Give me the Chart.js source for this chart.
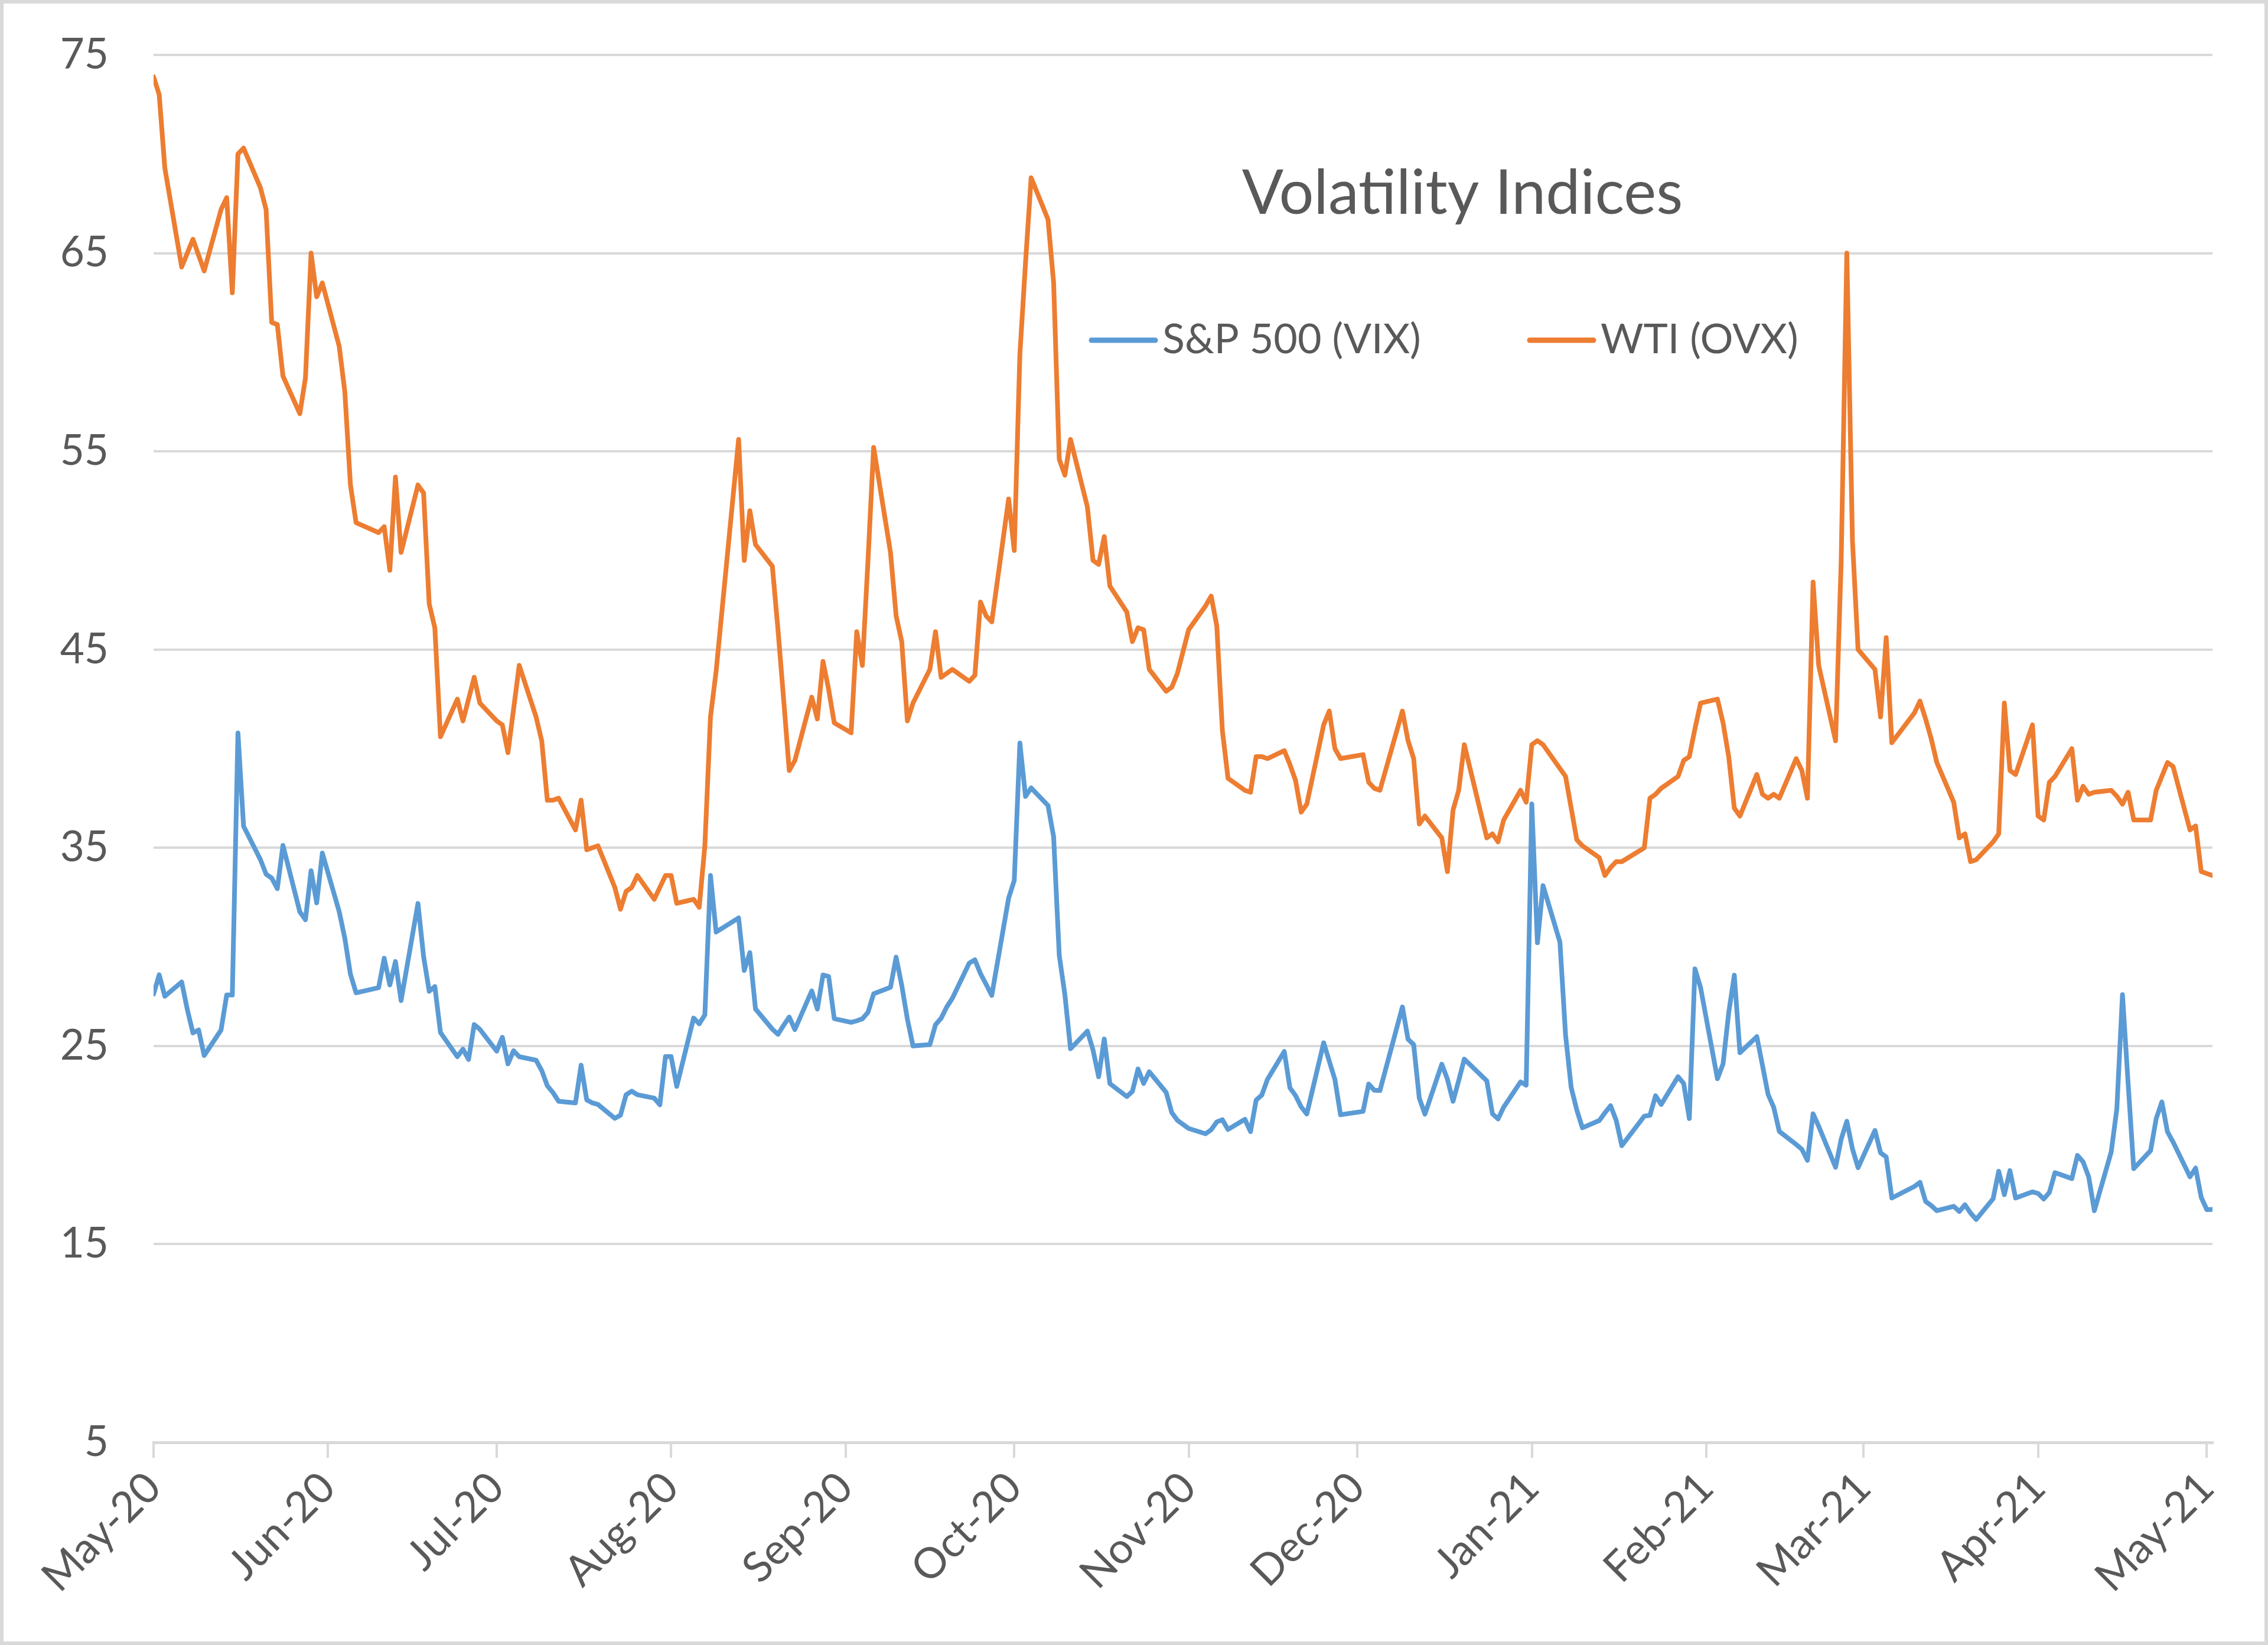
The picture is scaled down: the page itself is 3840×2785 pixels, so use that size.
<!DOCTYPE html>
<html><head><meta charset="utf-8">
<script src="https://cdn.jsdelivr.net/npm/chart.js@4.4.1/dist/chart.umd.min.js"></script>
<style>html,body{margin:0;padding:0;background:#fff;}canvas{display:block;}</style>
</head><body>
<canvas id="c" width="3840" height="2785"></canvas>
<script>
// ---- data ----
const dates = [
"2020-05-27","2020-05-28","2020-05-29",
"2020-06-01","2020-06-02","2020-06-03","2020-06-04","2020-06-05","2020-06-08","2020-06-09","2020-06-10","2020-06-11","2020-06-12","2020-06-15","2020-06-16","2020-06-17","2020-06-18","2020-06-19","2020-06-22","2020-06-23","2020-06-24","2020-06-25","2020-06-26","2020-06-29","2020-06-30",
"2020-07-01","2020-07-02","2020-07-06","2020-07-07","2020-07-08","2020-07-09","2020-07-10","2020-07-13","2020-07-14","2020-07-15","2020-07-16","2020-07-17","2020-07-20","2020-07-21","2020-07-22","2020-07-23","2020-07-24","2020-07-27","2020-07-28","2020-07-29","2020-07-30","2020-07-31",
"2020-08-03","2020-08-04","2020-08-05","2020-08-06","2020-08-07","2020-08-10","2020-08-11","2020-08-12","2020-08-13","2020-08-14","2020-08-17","2020-08-18","2020-08-19","2020-08-20","2020-08-21","2020-08-24","2020-08-25","2020-08-26","2020-08-27","2020-08-28","2020-08-31",
"2020-09-01","2020-09-02","2020-09-03","2020-09-04","2020-09-08","2020-09-09","2020-09-10","2020-09-11","2020-09-14","2020-09-15","2020-09-16","2020-09-17","2020-09-18","2020-09-21","2020-09-22","2020-09-23","2020-09-24","2020-09-25","2020-09-28","2020-09-29","2020-09-30",
"2020-10-01","2020-10-02","2020-10-05","2020-10-06","2020-10-07","2020-10-08","2020-10-09","2020-10-12","2020-10-13","2020-10-14","2020-10-15","2020-10-16","2020-10-19","2020-10-20","2020-10-21","2020-10-22","2020-10-23","2020-10-26","2020-10-27","2020-10-28","2020-10-29","2020-10-30",
"2020-11-02","2020-11-03","2020-11-04","2020-11-05","2020-11-06","2020-11-09","2020-11-10","2020-11-11","2020-11-12","2020-11-13","2020-11-16","2020-11-17","2020-11-18","2020-11-19","2020-11-20","2020-11-23","2020-11-24","2020-11-25","2020-11-27","2020-11-30",
"2020-12-01","2020-12-02","2020-12-03","2020-12-04","2020-12-07","2020-12-08","2020-12-09","2020-12-10","2020-12-11","2020-12-14","2020-12-15","2020-12-16","2020-12-17","2020-12-18","2020-12-21","2020-12-22","2020-12-23","2020-12-24","2020-12-28","2020-12-29","2020-12-30","2020-12-31",
"2021-01-04","2021-01-05","2021-01-06","2021-01-07","2021-01-08","2021-01-11","2021-01-12","2021-01-13","2021-01-14","2021-01-15","2021-01-19","2021-01-20","2021-01-21","2021-01-22","2021-01-25","2021-01-26","2021-01-27","2021-01-28","2021-01-29",
"2021-02-01","2021-02-02","2021-02-03","2021-02-04","2021-02-05","2021-02-08","2021-02-09","2021-02-10","2021-02-11","2021-02-12","2021-02-16","2021-02-17","2021-02-18","2021-02-19","2021-02-22","2021-02-23","2021-02-24","2021-02-25","2021-02-26",
"2021-03-01","2021-03-02","2021-03-03","2021-03-04","2021-03-05","2021-03-08","2021-03-09","2021-03-10","2021-03-11","2021-03-12","2021-03-15","2021-03-16","2021-03-17","2021-03-18","2021-03-19","2021-03-22","2021-03-23","2021-03-24","2021-03-25","2021-03-26","2021-03-29","2021-03-30","2021-03-31",
"2021-04-01","2021-04-05","2021-04-06","2021-04-07","2021-04-08","2021-04-09","2021-04-12","2021-04-13","2021-04-14","2021-04-15","2021-04-16","2021-04-19","2021-04-20","2021-04-21","2021-04-22","2021-04-23","2021-04-26","2021-04-27","2021-04-28","2021-04-29","2021-04-30",
"2021-05-03","2021-05-04","2021-05-05","2021-05-06","2021-05-07","2021-05-10","2021-05-11","2021-05-12","2021-05-13","2021-05-14","2021-05-17","2021-05-18","2021-05-19","2021-05-20","2021-05-21","2021-05-24","2021-05-25","2021-05-26","2021-05-27","2021-05-28"
];
const vix = [
27.62,28.59,27.51,
28.23,26.84,25.66,25.81,24.52,25.81,27.57,27.57,40.79,36.09,34.40,33.67,33.47,32.94,35.12,31.77,31.37,33.84,32.22,34.73,31.78,30.43,
28.62,27.68,27.94,29.43,28.08,29.26,27.29,32.19,29.52,27.76,28.00,25.68,24.46,24.84,24.32,26.08,25.84,24.74,25.44,24.10,24.76,24.46,
24.28,23.76,22.99,22.65,22.21,22.13,24.03,22.28,22.13,22.05,21.35,21.51,22.54,22.72,22.54,22.37,22.03,24.47,24.47,22.96,26.41,
26.12,26.57,33.60,30.75,31.46,28.81,29.71,26.87,25.85,25.59,26.04,26.46,25.83,27.78,26.86,28.58,28.51,26.38,26.19,26.27,26.37,
26.70,27.63,27.96,29.48,28.06,26.36,25.00,25.07,26.07,26.40,26.97,27.41,29.18,29.35,28.65,28.11,27.55,32.46,33.35,40.28,37.59,38.02,
37.13,35.55,29.57,27.58,24.86,25.75,24.80,23.45,25.35,23.10,22.45,22.71,23.84,23.11,23.70,22.66,21.64,21.25,20.84,20.57,
20.77,21.17,21.28,20.79,21.30,20.68,22.27,22.52,23.31,24.72,22.89,22.50,21.93,21.57,25.16,24.23,23.31,21.53,21.70,23.08,22.77,22.75,
26.97,25.34,25.07,22.37,21.56,24.08,23.33,22.21,23.25,24.34,23.24,21.58,21.32,21.91,23.19,23.02,37.21,30.21,33.09,
30.24,25.56,22.91,21.77,20.87,21.24,21.63,21.99,21.25,19.97,21.46,21.50,22.49,22.05,23.45,23.11,21.34,28.89,27.95,
23.35,24.10,26.67,28.57,24.66,25.47,24.03,22.56,21.91,20.69,20.03,19.79,19.23,21.58,20.95,18.88,20.30,21.20,19.81,18.86,20.74,19.61,19.40,
17.33,17.91,18.12,17.16,16.95,16.69,16.91,16.65,16.99,16.57,16.25,17.29,18.68,17.50,18.71,17.33,17.64,17.56,17.28,17.61,18.61,
18.31,19.48,19.15,18.39,16.69,19.66,21.84,27.59,23.13,18.81,19.72,21.34,22.18,20.67,20.15,18.40,18.84,17.36,16.74,16.76
];
const ovx = [
73.9,73.0,69.3,
64.3,65.0,65.7,64.9,64.1,67.2,67.8,63.0,70.0,70.3,68.3,67.2,61.5,61.4,58.8,56.9,58.7,65.0,62.8,63.5,60.3,58.0,
53.3,51.4,50.9,51.2,49.0,53.7,49.9,53.3,52.9,47.3,46.1,40.6,42.5,41.4,42.5,43.6,42.3,41.4,41.2,39.8,42.0,44.2,
41.6,40.4,37.4,37.4,37.5,35.9,37.4,34.9,35.0,35.1,33.0,31.9,32.8,33.0,33.6,32.4,33.0,33.6,33.6,32.2,32.4,
32.0,35.1,41.6,43.9,55.6,49.5,52.0,50.3,49.2,46.0,42.5,38.9,39.4,42.6,41.5,44.4,43.0,41.3,40.8,45.9,44.2,
49.5,55.2,49.9,46.7,45.4,41.4,42.3,44.0,45.9,43.6,43.8,44.0,43.4,43.7,47.4,46.7,46.4,52.6,50.0,59.9,64.5,68.8,
66.7,63.5,54.6,53.8,55.6,52.2,49.5,49.3,50.7,48.2,46.9,45.4,46.1,46.0,44.0,42.9,43.1,43.8,46.0,47.2,
47.7,46.2,40.9,38.5,37.9,37.8,39.6,39.6,39.5,39.9,39.2,38.4,36.8,37.2,41.2,41.9,40.0,39.5,39.7,38.3,38.0,37.9,
41.9,40.4,39.5,36.2,36.6,35.5,33.8,36.9,37.9,40.2,35.5,35.7,35.3,36.4,37.9,37.3,40.2,40.4,40.2,
39.0,38.6,37.0,35.4,35.1,34.5,33.6,34.0,34.3,34.3,35.0,37.5,37.7,38.0,38.6,39.4,39.6,41.0,42.3,
42.5,41.3,39.6,37.0,36.6,38.7,37.7,37.5,37.7,37.5,39.5,38.9,37.5,48.4,44.2,40.4,49.5,65.0,50.5,45.0,44.0,41.6,45.6,
40.3,41.8,42.4,41.5,40.5,39.3,37.3,35.5,35.7,34.3,34.4,35.3,35.7,42.3,38.9,38.7,41.2,36.6,36.4,38.3,38.6,
40.0,37.4,38.1,37.7,37.8,37.9,37.6,37.2,37.8,36.4,36.4,37.9,38.6,39.3,39.1,35.9,36.1,33.8,33.7,33.6
];
const seriesNames = ["S&P 500 (VIX)", "WTI (OVX)"];
const tickDates = ["2020-05-27","2020-06-27","2020-07-27","2020-08-27","2020-09-27","2020-10-27","2020-11-27","2020-12-27","2021-01-27","2021-02-27","2021-03-27","2021-04-27","2021-05-27"];
const tickLabels = ["May-20","Jun-20","Jul-20","Aug-20","Sep-20","Oct-20","Nov-20","Dec-20","Jan-21","Feb-21","Mar-21","Apr-21","May-21"];
const yTicks = [5,15,25,35,45,55,65,75];
const chartTitle = "Volatility Indices";

// ---- helpers ----
const DAY = 86400000;
function toUTC(s){const p=s.split('-').map(Number);return Date.UTC(p[0],p[1]-1,p[2]);}
const t0 = toUTC(dates[0]);
const xDay = dates.map(s => (toUTC(s)-t0)/DAY);
const tickDay = tickDates.map(s => (toUTC(s)-t0)/DAY);

const BLUE = '#5B9BD5', ORANGE = '#ED7D31', GRID = '#D9D9D9', TXT = '#595959';
const FONT = 'Lato, "Open Sans", sans-serif';

const frame = {
  id: 'frame',
  beforeDraw(chart){
    const c = chart.ctx; c.save(); c.fillStyle = '#fff'; c.fillRect(0,0,chart.width,chart.height); c.restore();
  },
  afterDraw(chart){
    const c = chart.ctx;
    c.save();
    // title
    c.fillStyle = TXT; c.textAlign = 'center'; c.textBaseline = 'alphabetic';
    c.font = '400 104px ' + FONT;
    c.fillText(chartTitle, 2476, 362);
    // legend
    c.font = '70px ' + FONT; c.textAlign = 'left';
    const items = [{x:1848, color: BLUE, label: seriesNames[0]}, {x:2590, color: ORANGE, label: seriesNames[1]}];
    items.forEach(it => {
      c.strokeStyle = it.color; c.lineWidth = 9; c.lineCap = 'round';
      c.beginPath(); c.moveTo(it.x, 576); c.lineTo(it.x + 108, 576); c.stroke();
      c.fillStyle = TXT; c.fillText(it.label, it.x + 120, 598);
    });
    // outer border
    c.strokeStyle = GRID; c.lineWidth = 6;
    c.strokeRect(3, 3, chart.width - 6, chart.height - 6);
    c.restore();
  }
};

new Chart(document.getElementById('c'), {
  type: 'line',
  data: {
    datasets: [
      {label: seriesNames[0], data: xDay.map((x,i)=>({x, y: vix[i]})), borderColor: BLUE, backgroundColor: BLUE, borderWidth: 8, pointRadius: 0, tension: 0, borderJoinStyle: 'round', borderCapStyle: 'round', order: 1},
      {label: seriesNames[1], data: xDay.map((x,i)=>({x, y: ovx[i]})), borderColor: ORANGE, backgroundColor: ORANGE, borderWidth: 8, pointRadius: 0, tension: 0, borderJoinStyle: 'round', borderCapStyle: 'round', order: 0}
    ]
  },
  options: {
    responsive: false, animation: false, devicePixelRatio: 1,
    layout: {padding: {left: 0, top: 93, right: 94, bottom: 0}},
    plugins: {legend: {display: false}, tooltip: {enabled: false}, title: {display: false}},
    scales: {
      x: {
        type: 'linear', min: 0, max: xDay[xDay.length-1],
        afterBuildTicks: axis => { axis.ticks = tickDay.map(v => ({value: v})); },
        afterFit: s => { s.height = 2785 - 2442; },
        ticks: {autoSkip: false, minRotation: 45, maxRotation: 45, padding: 8, color: TXT,
          font: {family: FONT, size: 72},
          callback: (v) => tickLabels[tickDay.indexOf(v)]},
        grid: {drawOnChartArea: false, drawTicks: true, tickLength: 26, color: GRID, lineWidth: 4},
        border: {display: true, color: GRID, width: 5}
      },
      y: {
        min: 5, max: 75,
        afterBuildTicks: axis => { axis.ticks = yTicks.map(v => ({value: v})); },
        afterFit: s => { s.width = 260; s.paddingTop = 0; s.paddingBottom = 0; },
        ticks: {padding: 76, color: TXT, font: {family: FONT, size: 71}},
        grid: {color: GRID, lineWidth: 4, drawTicks: false},
        border: {display: false}
      }
    }
  },
  plugins: [frame]
});
</script>
</body></html>
